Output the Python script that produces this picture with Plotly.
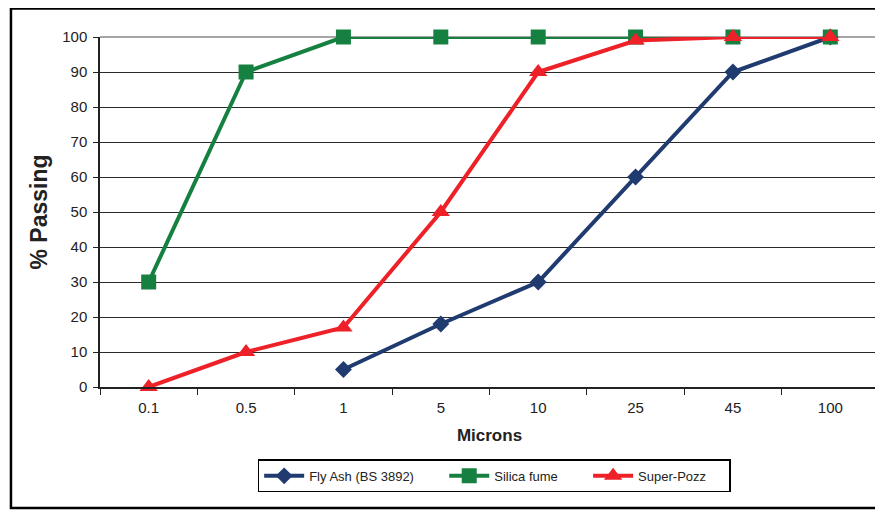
import plotly.graph_objects as go

categories = ["0.1", "0.5", "1", "5", "10", "25", "45", "100"]
fly_ash = [None, None, 5, 18, 30, 60, 90, 100]
silica_fume = [30, 90, 100, 100, 100, 100, 100, 100]
super_pozz = [0, 10, 17, 50, 90, 99, 100, 100]
y_ticks = list(range(0, 101, 10))

NB = "\u00a0"

fig = go.Figure()
fig.add_trace(go.Scatter(
    x=categories, y=fly_ash, name="Fly Ash (BS 3892)" + NB * 7, mode="lines+markers",
    line=dict(color="#1F3B6F", width=4), cliponaxis=False,
    marker=dict(symbol="diamond", size=13, color="#1F3B6F"),
))
fig.add_trace(go.Scatter(
    x=categories, y=silica_fume, name="Silica fume" + NB * 7, mode="lines+markers",
    line=dict(color="#168040", width=4), cliponaxis=False,
    marker=dict(symbol="square", size=15, color="#168040"),
))
fig.add_trace(go.Scatter(
    x=categories, y=super_pozz, name="Super-Pozz" + NB * 5, mode="lines+markers",
    line=dict(color="#EE2028", width=4), cliponaxis=False,
    marker=dict(symbol="triangle-up", size=16, color="#EE2028"),
))

font_family = "Liberation Sans, Arial, sans-serif"

# page body has an 8px margin; offsets compensate so the plot area lands at x 100-879, y 37-387
fig.update_layout(
    width=883, height=511,
    margin=dict(l=92, r=12, t=29, b=132),
    paper_bgcolor="white", plot_bgcolor="white",
    font=dict(family=font_family, color="#222", size=15),
    showlegend=True,
    legend=dict(
        orientation="h", x=0.506, xanchor="center", y=-0.254, yanchor="middle",
        bordercolor="black", borderwidth=1.5, bgcolor="white",
        font=dict(size=13, family=font_family, color="#222"),
        itemwidth=40, tracegroupgap=0,
    ),
    xaxis=dict(
        type="category", categoryorder="array", categoryarray=categories,
        tickson="boundaries", ticks="outside", ticklen=6, tickcolor="#222",
        ticklabelstandoff=6,
        showline=True, linecolor="#222", linewidth=1.5,
        showgrid=False, zeroline=False,
        tickfont=dict(size=15),
        title=dict(text="<b>Microns</b>", font=dict(size=17), standoff=14),
        range=[-0.5, 7.5],
    ),
    yaxis=dict(
        range=[0, 100], tickvals=y_ticks, ticks="outside", ticklen=5, tickcolor="#222",
        ticklabelstandoff=3,
        showline=True, linecolor="#222", linewidth=1.5,
        showgrid=True, gridcolor="#2a2a2a", gridwidth=1.3, zeroline=False,
        tickfont=dict(size=15),
        title=dict(text="<b>% Passing</b>", font=dict(size=23), standoff=8),
    ),
    shapes=[
        dict(type="line", xref="paper", yref="paper", x0=0, x1=1, y0=1, y1=1,
             line=dict(color="#888", width=1.5), layer="below"),
        dict(type="line", xref="paper", yref="paper", x0=1, x1=1, y0=0, y1=1,
             line=dict(color="#888", width=1.5), layer="below"),
        dict(type="rect", xref="paper", yref="paper", x0=-0.1143, x1=1.05,
             y0=-0.3457, y1=1.0814, line=dict(color="black", width=2.5)),
    ],
)

fig.write_html("out.html")
